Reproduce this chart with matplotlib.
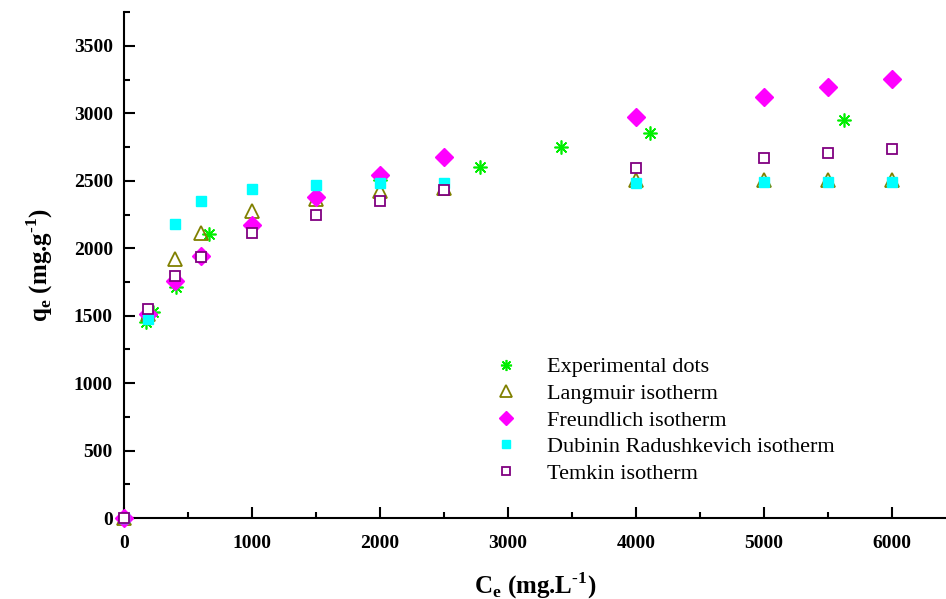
import matplotlib
matplotlib.use("Agg")
import matplotlib.pyplot as plt
from matplotlib.ticker import MultipleLocator

plt.rcParams['font.family'] = 'Liberation Serif'
plt.rcParams['mathtext.fontset'] = 'custom'
plt.rcParams['mathtext.rm'] = 'Liberation Serif:bold'

# experimental points
exp_x = [0, 170, 230, 406, 664, 2000, 2781, 3414, 4109, 5625]
exp_y = [0, 1455, 1525, 1713, 2106, 2506, 2603, 2751, 2855, 2951]

# model points
ce = [0, 190, 400, 600, 1000, 1500, 2000, 2500, 4000, 5000, 5500, 6000]
langmuir = [0, 1510, 1920, 2110, 2276, 2365, 2427, 2449, 2506, 2506, 2506, 2506]
freundlich = [0, 1510, 1760, 1940, 2170, 2380, 2543, 2675, 2971, 3124, 3194, 3258]
dubinin = [0, 1476, 2180, 2351, 2440, 2469, 2482, 2486, 2486, 2490, 2490, 2490]
temkin = [0, 1552, 1792, 1938, 2110, 2250, 2353, 2432, 2593, 2672, 2706, 2734]

fig = plt.figure(figsize=(9.46, 5.99), dpi=100)
ax = fig.add_axes([0.1311, 0.1352, 0.8689, 0.8448])

ax.plot(exp_x, exp_y, ls='none', marker=(8, 2, 0), ms=10, mec='#00ee00', mew=1.2,
        label='Experimental dots', clip_on=False, zorder=3)
ax.plot(ce, langmuir, ls='none', marker='^', ms=10, mfc='none', mec='#808000', mew=1.3,
        label='Langmuir isotherm', clip_on=False, zorder=3)
ax.plot(ce, freundlich, ls='none', marker='D', ms=9, mfc='#ff00ff', mec='#ff00ff',
        label='Freundlich isotherm', clip_on=False, zorder=3)
ax.plot(ce, dubinin, ls='none', marker='s', ms=7.5, mfc='#00ffff', mec='#00ffff',
        label='Dubinin Radushkevich isotherm', clip_on=False, zorder=3)
ax.plot(ce, temkin, ls='none', marker='s', ms=7, mfc='white', mec='#800080', mew=1.3,
        label='Temkin isotherm', clip_on=False, zorder=4)

ax.set_xlim(0, 6422)
ax.set_ylim(0, 3752)
ax.xaxis.set_major_locator(MultipleLocator(1000))
ax.xaxis.set_minor_locator(MultipleLocator(500))
ax.yaxis.set_major_locator(MultipleLocator(500))
ax.yaxis.set_minor_locator(MultipleLocator(250))

for s in ['top', 'right']:
    ax.spines[s].set_visible(False)
for s in ['left', 'bottom']:
    ax.spines[s].set_linewidth(1.5)

ax.tick_params(which='major', direction='in', length=8, width=1.5, labelsize=14)
ax.tick_params(axis='y', which='major', pad=8)
ax.tick_params(axis='x', which='major', pad=12)
ax.tick_params(which='minor', direction='in', length=4, width=1.5)
for lab in ax.get_xticklabels() + ax.get_yticklabels():
    lab.set_fontweight('bold')

ax.set_xlabel(r'C$_\mathregular{e}$ (mg.L$^\mathregular{\text{-}1}$)', fontsize=18, fontweight='bold')
ax.set_ylabel(r'q$_\mathregular{e}$ (mg.g$^\mathregular{\text{-}1}$)', fontsize=18, fontweight='bold')
ax.xaxis.set_label_coords(0.5, -0.133)
ax.xaxis.label.set_va('center')
ax.yaxis.set_label_coords(-0.102, 0.5)
ax.yaxis.label.set_va('center')

ax.legend(loc='upper left', bbox_to_anchor=(0.413, 0.358), frameon=False, fontsize=16,
          labelspacing=0.27, handletextpad=0.85, markerscale=0.8)

fig.savefig('out.png', dpi=100)
